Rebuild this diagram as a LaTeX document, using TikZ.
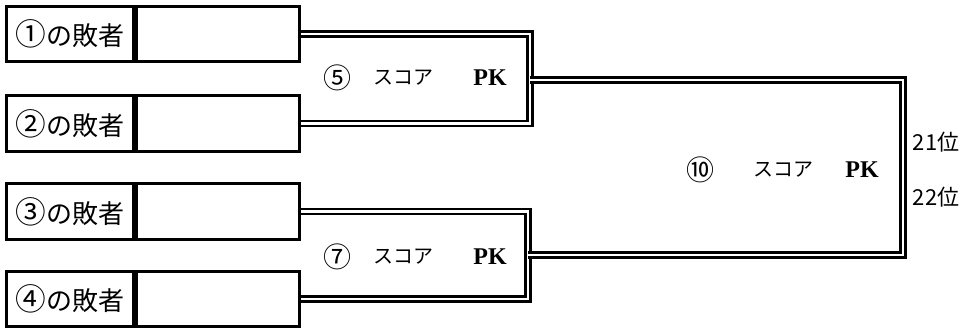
\documentclass[tikz,border=0pt]{standalone}
\usepackage{fontspec}
\setmainfont{Noto Sans CJK JP}
\newfontfamily\pkfont{Liberation Serif}
\usetikzlibrary{calc}

\newcommand{\circnum}[1]{{\fontsize{23}{20}\selectfont #1}}

\tikzset{
	namecell/.style={draw, line width=2.25pt, minimum width=95pt, minimum height=41.5pt, inner sep=0pt, font=\fontsize{19.5}{20}\selectfont},
	blankcell/.style={draw, line width=2.25pt, minimum width=122.6pt, minimum height=41.5pt, inner sep=0pt, anchor=west},
	dline/.style={double, line width=2pt, double distance=1.8pt},
	numtxt/.style={inner sep=0pt, font=\fontsize{21}{22}\selectfont},
	scoretxt/.style={inner sep=0pt, font=\fontsize{15}{16}\selectfont},
	pktxt/.style={inner sep=0pt, font=\pkfont\bfseries\fontsize{18}{18}\selectfont},
	ranktxt/.style={inner sep=0pt, font=\fontsize{16.5}{18}\selectfont}
}

\begin{document}
\begin{tikzpicture}[x=0.75pt, y=-0.75pt]
	\useasboundingbox (0,0) rectangle (974,329);

	%loser boxes
	\node[namecell] (loser1) at (69.75,34) {\circnum{①}の敗者};
	\node[blankcell] (blank1) at (loser1.east) {};
	\node[namecell] (loser2) at (69.75,123.5) {\circnum{②}の敗者};
	\node[blankcell] (blank2) at (loser2.east) {};
	\node[namecell] (loser3) at (69.75,211.5) {\circnum{③}の敗者};
	\node[blankcell] (blank3) at (loser3.east) {};
	\node[namecell] (loser4) at (69.75,299) {\circnum{④}の敗者};
	\node[blankcell] (blank4) at (loser4.east) {};

	%junctions
	\coordinate (j5) at (530,80);		%output of match 5
	\coordinate (j7) at (528,255);		%output of match 7
	\coordinate (j10) at (903,167);		%right side of match 10

	%brackets
	\draw[dline] (blank1.east) -| (j5) |- (blank2.east);
	\draw[dline] (blank3.east) -| (j7) |- (blank4.east);
	\draw[dline] (j5) -| (j10) |- (j7);

	%match 5
	\node[numtxt] (num5) at (337,78) {⑤};
	\node[scoretxt] (score5) at (403,78) {スコア};
	\node[pktxt] (pk5) at (490,78) {PK};

	%match 7
	\node[numtxt] (num7) at (337,257) {⑦};
	\node[scoretxt] (score7) at (403,257) {スコア};
	\node[pktxt] (pk7) at (490,257) {PK};

	%match 10
	\node[numtxt] (num10) at (700,170) {⑩};
	\node[scoretxt] (score10) at (783,170) {スコア};
	\node[pktxt] (pk10) at (862,170) {PK};

	%ranks
	\node[ranktxt] (rank21) at (936,142) {21位};
	\node[ranktxt] (rank22) at (936,197) {22位};
\end{tikzpicture}
\end{document}
